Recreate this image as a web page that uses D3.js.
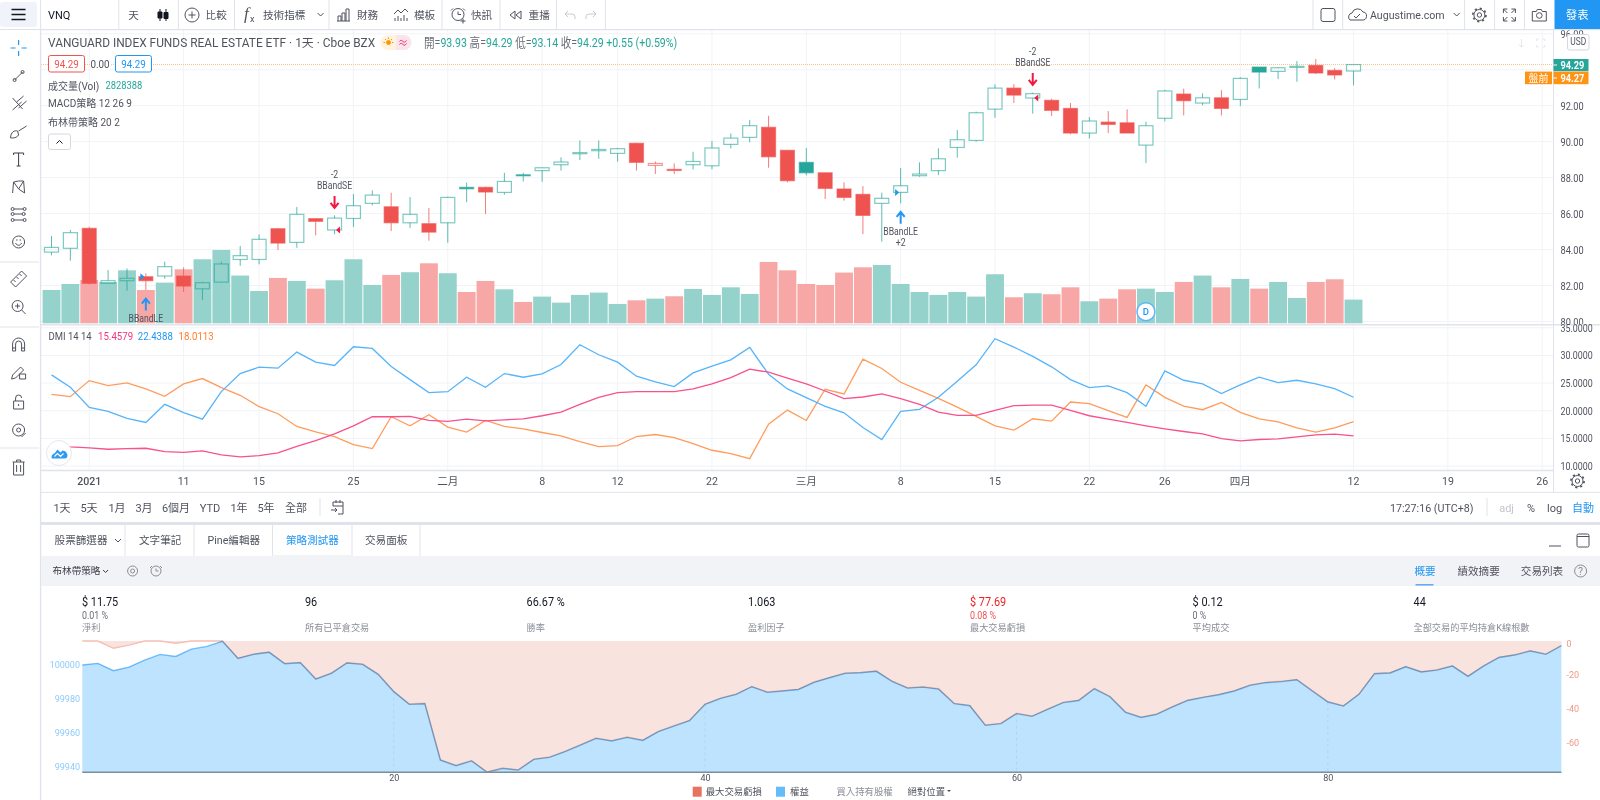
<!DOCTYPE html>
<html>
<head>
<meta charset="utf-8">
<title>VNQ</title>
<script src="https://d3js.org/d3.v7.min.js"></script>
<style>
  html, body { margin: 0; padding: 0; background: #fff; overflow: hidden; }
  svg { display: block; }
  text { font-family: Roboto, "Noto Sans CJK TC", sans-serif; font-size: 10.6px; fill: #50535e; }
  .axis path.domain, .axis line { display: none; }
  .icon { fill: none; stroke: #50535e; stroke-width: 1; }
</style>
</head>
<body>
<svg id="chart" width="1600" height="800"></svg>
<script>
"use strict"

// 日K資料 (VNQ)
var opens = [83.86,84.07,85.18,82.12,82.27,82.49,82.53,82.53,81.82,82.19,
  83.45,83.45,85.16,84.40,85.72,85.09,85.73,86.57,86.38,85.49,
  85.44,85.49,87.46,87.46,87.18,88.16,88.39,88.72,89.33,89.50,
  89.35,89.91,88.68,88.46,88.72,88.66,89.85,90.24,90.80,89.52,
  88.85,88.27,87.37,87.07,86.57,87.18,88.11,88.39,89.68,90.07,
  91.81,92.98,92.43,92.30,91.85,90.48,91.09,91.05,89.81,91.30,
  92.65,92.15,92.44,92.35,94.15,93.91,94.13,94.24,93.96,93.93];
var highs = [84.75,85.09,85.27,82.86,82.95,82.68,83.33,83.01,82.21,83.33,
  84.20,84.85,85.20,86.37,85.73,85.90,87.09,87.29,87.16,86.92,
  86.31,86.94,87.72,87.50,88.27,88.27,88.57,89.13,90.07,90.07,
  89.66,89.94,88.90,88.79,89.44,90.04,90.46,91.20,91.44,89.53,
  89.65,88.29,87.74,87.53,87.16,88.53,88.85,89.63,90.65,91.67,
  93.19,93.20,92.74,92.39,92.15,91.37,91.70,91.80,91.11,92.89,
  92.95,92.69,92.87,93.58,94.15,94.15,94.48,94.60,94.09,94.29];
var lows = [83.68,83.38,82.06,82.12,81.71,81.75,82.38,81.64,81.19,82.16,
  83.10,83.18,83.97,84.10,84.79,84.86,85.25,86.46,85.03,85.20,
  84.49,84.38,86.64,85.98,87.05,87.79,87.77,88.39,88.98,89.05,
  88.89,88.39,88.20,88.20,88.46,88.46,89.63,89.96,88.55,87.74,
  88.13,86.81,86.72,84.86,84.44,86.57,88.05,88.14,89.11,90.00,
  91.33,92.15,91.56,91.43,90.41,90.18,90.48,90.48,88.81,91.13,
  91.46,92.02,91.46,91.98,92.96,93.48,93.33,93.76,93.46,93.14];
var closes = [84.12,84.94,82.12,82.27,82.40,82.27,83.05,81.97,82.16,83.20,
  83.66,84.57,84.36,85.96,85.57,85.75,86.44,87.03,85.49,85.96,
  84.97,86.90,87.38,87.20,87.79,88.11,88.55,88.87,89.39,89.57,
  89.61,88.85,88.79,88.40,88.90,89.65,90.20,90.89,89.16,87.83,
  88.27,87.40,86.90,85.90,86.85,87.55,88.20,89.05,90.11,91.61,
  92.98,92.59,92.67,91.74,90.48,91.15,90.96,90.48,90.89,92.82,
  92.28,92.44,91.85,93.52,93.87,94.11,94.19,93.82,93.71,94.29];
// 成交量 (百萬)
var volumes = [3.98,4.70,5.18,4.94,6.33,3.98,4.86,6.45,7.65,8.76,
  5.70,3.86,5.42,5.06,4.14,5.14,7.65,4.58,5.78,6.10,
  7.17,5.98,3.74,5.06,4.06,2.55,3.19,2.47,3.39,3.67,
  2.31,2.75,2.95,3.23,4.10,3.39,4.30,3.51,7.33,6.33,
  4.70,4.58,6.06,6.69,6.97,4.70,3.74,3.39,3.74,3.19,
  5.86,3.11,3.59,3.47,4.30,2.63,2.95,4.06,4.14,3.74,
  4.94,5.70,4.30,5.30,4.14,4.94,3.03,4.94,5.26,2.83];
// DMI
var dmiBlue = [26.48,24.24,20.60,19.88,18.61,17.88,21.15,19.64,18.48,23.45,
  26.72,27.88,27.69,30.60,28.78,28.18,31.57,31.27,28.00,25.63,
  23.27,23.45,26.06,24.24,26.72,26.06,26.66,28.36,31.94,30.12,
  28.78,26.24,25.21,24.36,26.85,28.06,29.21,31.45,26.60,23.94,
  22.36,20.79,19.63,16.97,14.79,19.88,20.24,22.42,25.33,28.30,
  33.03,31.51,29.82,27.94,25.63,24.18,24.48,23.27,20.79,27.21,
  25.51,24.85,23.09,24.66,26.06,25.09,25.51,24.85,24.00,22.44];
var dmiOrange = [22.97,22.54,25.45,24.54,25.03,23.94,22.60,24.85,25.82,24.18,
  22.79,20.73,19.45,17.15,16.18,15.33,13.88,13.15,18.91,17.27,
  19.27,17.03,16.12,18.24,17.15,16.73,16.06,15.45,14.42,13.51,
  13.69,15.33,15.70,15.15,14.06,12.85,12.24,11.33,17.57,20.12,
  18.24,23.88,23.03,29.33,27.63,25.15,23.69,22.24,20.66,18.97,
  17.27,16.48,18.54,18.12,21.57,21.27,20.00,18.79,24.66,22.42,
  20.85,20.18,21.51,19.69,18.54,18.00,16.91,16.12,16.91,18.01];
var dmiPink = [13.76,13.45,13.27,13.03,13.15,13.21,12.60,12.48,12.73,12.00,
  11.64,11.88,12.36,13.57,14.60,15.82,17.27,18.91,18.91,18.97,
  18.24,18.06,18.48,18.18,18.36,18.54,19.09,19.76,21.15,22.42,
  23.27,23.45,23.45,23.45,23.94,24.85,26.00,27.51,26.97,25.88,
  24.85,23.57,22.18,22.48,23.03,22.18,21.15,19.76,19.15,19.15,
  20.06,20.91,21.03,21.03,20.06,19.09,18.48,17.88,17.27,16.73,
  16.24,15.82,14.97,14.54,14.79,14.91,15.27,15.63,15.76,15.46];
// 權益 / 最大交易虧損
var equity = [100000.0,100001.0,99996.7,99998.8,100002.9,100006.3,100005.1,100009.4,100011.0,100014.0,
  100003.9,100006.3,100007.5,100000.8,100001.4,99991.7,99995.1,100001.2,100000.4,99994.5,
  99984.3,99976.8,99977.2,99943.9,99940.6,99943.4,99936.7,99939.0,99938.0,99944.3,
  99945.5,99948.9,99952.8,99956.7,99955.2,99957.3,99955.5,99960.7,99964.0,99967.2,
  99976.8,99980.3,99982.7,99987.2,99983.9,99984.7,99985.6,99989.8,99992.5,99995.1,
  99995.5,99996.3,99990.4,99986.4,99987.0,99985.8,99977.2,99976.0,99964.4,99965.4,
  99971.3,99969.7,99973.8,99977.8,99979.1,99986.0,99981.3,99972.1,99969.1,99970.9,
  99975.2,99979.1,99980.9,99982.5,99984.7,99988.0,99989.6,99990.2,99991.3,99984.7,
  99978.2,99975.8,99982.7,99994.9,99995.3,99999.0,99995.9,99997.0,99999.4,99993.3,
  99999.4,100004.5,100005.9,100008.3,100006.3,100011.4];
var drawdown = [0,0,4.3,2.4,0,0,1.3,0,0,0,
  10.1,7.7,6.5,13.2,12.6,22.3,18.9,12.8,13.6,19.5,
  29.7,37.2,36.8,70.1,73.4,70.6,77.3,75.0,76.0,69.7,
  68.5,65.1,61.2,57.3,58.8,56.7,58.5,53.3,50.0,46.8,
  37.2,33.7,31.3,26.8,30.1,29.3,28.4,24.2,21.5,18.9,
  18.5,17.7,23.6,27.6,27.0,28.2,36.8,38.0,49.6,48.6,
  42.7,44.3,40.2,36.2,34.9,28.0,32.7,41.9,44.9,43.1,
  38.8,34.9,33.1,31.5,29.3,26.0,24.4,23.8,22.7,29.3,
  35.8,38.2,31.3,19.1,18.7,15.0,18.1,17.0,14.6,20.7,
  14.6,9.5,8.1,5.7,7.7,2.6];

var timeTickIndex = [2,7,11,16,21,26,30,35,40,45,50,55,59,63,69,74,79];
var timeTickLabels = ["2021","11","15","25","二月","8","12","22","三月","8","15","22","26","四月","12","19","26"];
var priceTicks = [80,82,84,86,88,90,92,94,96];
var priceLabelTicks = [80,82,84,86,88,90,92,96];  // 94.00 被標籤蓋住
var dmiTicks = [10,15,20,25,30,35];
var equityTicks = [99940,99960,99980,100000];
var drawdownTicks = [0,20,40,60];
var tradeTicks = [20,40,60,80];

var signalIndex = [5,15,45,52];
var signalName = ["BBandLE","BBandSE","BBandLE","BBandSE"];
var signalQty = ["+2","-2","+2","-2"];

var statValues = ["$ 11.75","96","66.67 %","1.063","$ 77.69","$ 0.12","44"];
var statSubs = ["0.01 %","","","","0.08 %","0 %",""];
var statLabels = ["淨利","所有已平倉交易","勝率","盈利因子","最大交易虧損","平均成交","全部交易的平均持倉K線根數"];
var statX = [82,305,526.6,748,970,1192.6,1413.5];

var teal = "#26a69a", red = "#ef5350", border = "#e0e3eb", gridColor = "#f2f3f7";
var pinkLine = "#f9508e", blueLine = "#56b4fb", orangeLine = "#ff9c5c";
var squeeze = 0.84; // 數字的字形比較窄

var svg = d3.select("#chart");
svg.append("rect").attr("width", 1600).attr("height", 800).attr("fill", "#fff");

// escalas
var x = d3.scaleBand().domain(d3.range(80)).range([42.07, 1551.67]);
var xc = function(i) { return x(i) + x.bandwidth() / 2; };
var yP = d3.scaleLinear().domain([80, 96]).range([321.5, 33.8]);
var yV = d3.scaleLinear().domain([0, 10]).range([323.3, 239.6]);
var yD = d3.scaleLinear().domain([10, 35]).range([466, 327.8]);
var xE = d3.scaleLinear().domain([0, 95]).range([82.3, 1561.4]);
var yE = d3.scaleLinear().domain([99936.7, 100014.2]).range([772.3, 641]);
var yDD = d3.scaleLinear().domain([0, 77.5]).range([641, 772.3]);

function label(px, py, str, opt) {
  opt = opt || {};
  return svg.append("text").attr("x", opt.narrow ? px / squeeze : px).attr("y", py).attr("dy", ".35em")
    .attr("transform", opt.narrow ? "scale(" + squeeze + ",1)" : null)
    .attr("text-anchor", opt.anchor || "start")
    .style("fill", opt.color || null)
    .style("font-size", opt.size ? opt.size + "px" : null)
    .style("font-weight", opt.weight || null)
    .text(str);
}
function narrowAxis(sel, padding, size) {
  sel.selectAll("text")
    .attr("x", padding / squeeze)
    .attr("transform", "scale(" + squeeze + ",1)")
    .style("fill", "#50535e").style("font-size", size + "px");
}
function icon(px, py, d, opt) {
  opt = opt || {};
  return svg.append("path").attr("class", "icon")
    .attr("transform", "translate(" + px + "," + py + ")" + (opt.scale ? " scale(" + opt.scale + ")" : ""))
    .attr("d", d)
    .style("stroke", opt.color || null)
    .style("stroke-width", opt.width || null)
    .style("fill", opt.fill || null);
}
function hline(x1, x2, y, color, w) {
  svg.append("line").attr("x1", x1).attr("x2", x2).attr("y1", y).attr("y2", y)
    .attr("stroke", color || border).attr("stroke-width", w || 1);
}
function vline(px, y1, y2, color, w) {
  svg.append("line").attr("x1", px).attr("x2", px).attr("y1", y1).attr("y2", y2)
    .attr("stroke", color || border).attr("stroke-width", w || 1);
}
var circlePath = function(r) { return "M" + r + " 0A" + r + " " + r + " 0 1 1 -" + r + " 0A" + r + " " + r + " 0 1 1 " + r + " 0"; };

// 主圖 grid
svg.append("g").selectAll("line").data(priceTicks).enter().append("line")
  .attr("x1", 41).attr("x2", 1553).attr("y1", function(d) { return yP(d); }).attr("y2", function(d) { return yP(d); })
  .attr("stroke", gridColor);
svg.append("g").selectAll("line").data(timeTickIndex).enter().append("line")
  .attr("x1", function(d) { return xc(d); }).attr("x2", function(d) { return xc(d); })
  .attr("y1", 30).attr("y2", 324).attr("stroke", gridColor);

// 成交量
svg.append("g").selectAll("rect").data(volumes).enter().append("rect")
  .attr("x", function(d, i) { return x(i) + 0.5; })
  .attr("width", x.bandwidth() - 1)
  .attr("y", function(d) { return yV(d); })
  .attr("height", function(d) { return yV(0) - yV(d); })
  .attr("fill", function(d, i) { return closes[i] >= opens[i] ? "#94d2cb" : "#f7a8a6"; });

// 最新價虛線
svg.append("line").attr("x1", 41).attr("x2", 1553).attr("y1", yP(closes[69])).attr("y2", yP(closes[69]))
  .attr("stroke", "#f9c48c").attr("stroke-dasharray", "1,1");

// K線: 顏色看前收, 實心看開收
function candleColor(i) { return (i > 0 && closes[i] < closes[i - 1]) ? red : teal; }
var candles = svg.append("g").selectAll("g").data(d3.range(70)).enter().append("g");
candles.append("path")
  .attr("d", function(i) {
    var top = yP(Math.max(opens[i], closes[i])), bot = yP(Math.min(opens[i], closes[i]));
    return "M" + xc(i) + " " + yP(highs[i]) + "V" + top + "M" + xc(i) + " " + bot + "V" + yP(lows[i]);
  })
  .attr("fill", "none").attr("stroke", candleColor).attr("stroke-opacity", 0.75);
candles.append("rect")
  .attr("x", function(i) { return xc(i) - 7; })
  .attr("width", 14)
  .attr("y", function(i) { return yP(Math.max(opens[i], closes[i])); })
  .attr("height", function(i) { return Math.max(1, Math.abs(yP(opens[i]) - yP(closes[i]))); })
  .attr("fill", function(i) { return closes[i] < opens[i] ? candleColor(i) : "none"; })
  .attr("stroke", candleColor).attr("stroke-opacity", 0.6).attr("stroke-width", 1.2);

// 訊號
signalIndex.forEach(function(idx, k) {
  var isLong = signalName[k] === "BBandLE";
  var c = isLong ? "#2196f3" : "#f0193f";
  var cx = xc(idx), oy = yP(opens[idx]);
  icon(cx + (isLong ? -4 : 4), oy, isLong ? "M-1.5 -3.5L2.5 0L-1.5 3.5Z" : "M1.5 -3.5L-2.5 0L1.5 3.5Z", { color: "none", fill: c });
  if (isLong) {
    var ay = yP(lows[idx]) + 8.5;
    icon(cx, ay + 6, "M0 6V-5 M-4 -1L0 -6L4 -1", { color: c, width: 2 });
    label(cx, ay + 20, signalName[k], { anchor: "middle", size: 10.3, narrow: true });
    if (ay + 31 < 320) label(cx, ay + 31, signalQty[k], { anchor: "middle", size: 10.3, narrow: true });
  } else {
    var by = yP(highs[idx]) - 7.5;
    icon(cx, by - 6, "M0 -6V5 M-4 1L0 6L4 1", { color: c, width: 2 });
    label(cx, by - 23, signalName[k], { anchor: "middle", size: 10.3, narrow: true });
    label(cx, by - 34, signalQty[k], { anchor: "middle", size: 10.3, narrow: true });
  }
});

// D 標記
svg.append("circle").attr("cx", xc(58)).attr("cy", 311.7).attr("r", 9).attr("fill", "#fff").attr("stroke", "#5fb4f8").attr("stroke-width", 1.5);
label(xc(58), 311.7, "D", { anchor: "middle", color: "#2196f3", size: 9.5, weight: 500 });

// 主圖價格軸
svg.append("g").attr("class", "axis").attr("transform", "translate(1553,0)")
  .call(d3.axisRight(yP).tickValues(priceLabelTicks).tickFormat(d3.format(".2f")).tickSize(0))
  .call(narrowAxis, 7.5, 11);

// DMI 區塊 (蓋住主圖下緣)
svg.append("rect").attr("x", 41).attr("y", 324).attr("width", 1559).attr("height", 170).attr("fill", "#fff");
hline(41, 1600, 324.8, border, 1.6);
svg.append("g").selectAll("line").data(dmiTicks).enter().append("line")
  .attr("x1", 41).attr("x2", 1553).attr("y1", function(d) { return yD(d); }).attr("y2", function(d) { return yD(d); })
  .attr("stroke", gridColor);
svg.append("g").selectAll("line").data(timeTickIndex).enter().append("line")
  .attr("x1", function(d) { return xc(d); }).attr("x2", function(d) { return xc(d); })
  .attr("y1", 326).attr("y2", 470).attr("stroke", gridColor);

var dmiLine = d3.line().x(function(d, i) { return xc(i); }).y(function(d) { return yD(d); });
[[dmiOrange, orangeLine], [dmiBlue, blueLine], [dmiPink, pinkLine]].forEach(function(s) {
  svg.append("path").attr("d", dmiLine(s[0])).attr("fill", "none").attr("stroke", s[1]).attr("stroke-width", 1.3);
});
label(48.5, 336, "DMI 14 14", { size: 11.3, narrow: true });
label(98, 336, d3.format(".4f")(15.4579), { color: "#f0367f", size: 11.5, narrow: true });
label(137.8, 336, d3.format(".4f")(22.4388), { color: "#2196f3", size: 11.5, narrow: true });
label(178.6, 336, d3.format(".4f")(18.0113), { color: "#ff7f2a", size: 11.5, narrow: true });

// logo
svg.append("circle").attr("cx", 59).attr("cy", 453).attr("r", 12.5).attr("fill", "#fff").attr("stroke", "#e6e8ee");
icon(59.5, 453.5, "M-8 4C-8 1 -6 0 -5 0L-2 -4L1 -1L3 -3C6 -3 8 0 8 2C8 4 7 5 5 5H-6C-7 5 -8 5 -8 4Z", { color: "none", fill: "#2e9bee" });
icon(59.5, 453.5, "M-5 3L-2 0L1 3L4 0", { color: "#fff", width: 1.2 });

hline(41, 1553, 470.5, border, 1.4);
vline(1553.5, 30, 492);

// 時間軸
var timeAxis = svg.append("g").attr("class", "axis").attr("transform", "translate(0,477.5)")
  .call(d3.axisBottom(x).tickValues(timeTickIndex).tickFormat(function(d) { return timeTickLabels[timeTickIndex.indexOf(d)]; }).tickSize(0).tickPadding(0));
timeAxis.selectAll("text").style("fill", "#50535e").style("font-size", "10.6px")
  .style("font-weight", function(d) { return d === 2 ? 500 : null; });
svg.append("g").attr("class", "axis").attr("transform", "translate(1553,0)")
  .call(d3.axisRight(yD).tickValues(dmiTicks).tickFormat(d3.format(".4f")).tickSize(0))
  .call(narrowAxis, 7.5, 10.6);

function gear(px, py) {
  icon(px, py, circlePath(2.2));
  icon(px, py, circlePath(5.5));
  svg.append("circle").attr("cx", px).attr("cy", py).attr("r", 6.6).attr("fill", "none").attr("stroke", "#50535e").attr("stroke-width", 1.6).attr("stroke-dasharray", "2.2,3");
}
gear(1577.5, 481);

// 圖表上方 legend
label(48, 43, "VANGUARD INDEX FUNDS REAL ESTATE ETF · 1天 · Cboe BZX", { size: 11.9 });
svg.append("rect").attr("x", 380.5).attr("y", 35).attr("width", 31).attr("height", 15).attr("rx", 7.5).attr("fill", "#fff3e0");
svg.append("path").attr("d", "M396 35H404A7.5 7.5 0 0 1 404 50H396Z").attr("fill", "#fce4ec");
icon(388.5, 42.5, circlePath(2), { color: "#ff9800", fill: "#ff9800" });
icon(388.5, 42.5, "M-5 0H-3.5 M5 0H3.5 M0 -5V-3.5 M-3.5 -3.5L-2.5 -2.5 M3.5 -3.5L2.5 -2.5", { color: "#ff9800" });
icon(403, 42.5, "M-3.5 -1C-2 -3 -1 -2 0 -1S2 0 3.5 -2 M-3.5 2C-2 0 -1 1 0 2S2 3 3.5 1", { color: "#e91e63" });

var ohlc = label(424, 43, "", { size: 12.6, narrow: true });
[["開=", 0], ["93.93 ", 1], ["高=", 0], ["94.29 ", 1], ["低=", 0], ["93.14 ", 1], ["收=", 0], ["94.29 ", 1], ["+0.55 (+0.59%)", 1]].forEach(function(p) {
  ohlc.append("tspan").style("fill", p[1] ? teal : "#6a6d78").text(p[0]);
});

svg.append("rect").attr("x", 48.5).attr("y", 55.5).attr("width", 36).attr("height", 16.5).attr("rx", 2).attr("fill", "#fff").attr("stroke", "#ef5350");
label(66.5, 64, "94.29", { anchor: "middle", color: red, size: 11.7, narrow: true });
svg.append("rect").attr("x", 90).attr("y", 58).attr("width", 20).attr("height", 12).attr("fill", "#fff");
label(100, 64, "0.00", { anchor: "middle", size: 11.7, narrow: true });
svg.append("rect").attr("x", 115.5).attr("y", 55.5).attr("width", 36).attr("height", 16.5).attr("rx", 2).attr("fill", "#fff").attr("stroke", "#2196f3");
label(133.5, 64, "94.29", { anchor: "middle", color: "#2196f3", size: 11.7, narrow: true });

label(48, 86, "成交量(Vol)", { size: 10 });
label(105.4, 85, "2828388", { color: teal, size: 11.2, narrow: true });
label(48, 103.7, "MACD策略 12 26 9", { size: 10 });
label(48, 122.3, "布林帶策略 20 2", { size: 10 });
svg.append("rect").attr("x", 48.5).attr("y", 134).attr("width", 22).attr("height", 15.5).attr("rx", 2).attr("fill", "#fff").attr("stroke", "#d6d8e0");
icon(59.5, 142, "M-3 1.5L0 -1.5L3 1.5", { color: "#131722" });

// 價格標籤
svg.append("rect").attr("x", 1553.5).attr("y", 59).attr("width", 35).attr("height", 12.2).attr("fill", teal);
label(1560.5, 65.2, "94.29", { color: "#fff", size: 11, weight: 700, narrow: true });
svg.append("rect").attr("x", 1553.5).attr("y", 71.6).attr("width", 35).attr("height", 12.6).attr("fill", "#ff9314");
label(1560.5, 78, "94.27", { color: "#fff", size: 11, weight: 700, narrow: true });
svg.append("rect").attr("x", 1525).attr("y", 71.6).attr("width", 27).attr("height", 12.6).attr("fill", "#ff9314");
label(1538.5, 78, "盤前", { anchor: "middle", color: "#fff", size: 10 });
hline(1553.5, 1557, 65, "#fff"); hline(1553.5, 1557, 78, "#fff");
svg.append("rect").attr("x", 1567.5).attr("y", 34.5).attr("width", 21.5).attr("height", 15.5).attr("rx", 2).attr("fill", "#fff").attr("stroke", "#d6d8e0");
label(1578.2, 42, "USD", { anchor: "middle", size: 10, narrow: true });
icon(1521.4, 43, "M0 -4V4 M-2.5 1.5L0 4L2.5 1.5", { color: "#e4e6ec" });
icon(1540.7, 43, "M-4 -2V-4H-2 M2 -4H4V-2 M4 2V4H2 M-2 4H-4V2", { color: "#e4e6ec" });

// 上方工具列
svg.append("rect").attr("width", 1600).attr("height", 29).attr("fill", "#fff");
hline(0, 1600, 29.6, border, 1.4);
svg.append("rect").attr("x", 0).attr("y", 2).attr("width", 37).attr("height", 25).attr("rx", 3).attr("fill", "#f0f3fa");
icon(18.5, 14.5, "M-7 -5H7 M-7 0H7 M-7 5H7", { color: "#131722", width: 1.6 });
[40.6,118.8,178.4,234.5,329,442,500,556.5,605.4,1313,1342.7,1464.6,1494.6,1524.5].forEach(function(v) { vline(v, 0, 29); });
label(48, 15, "VNQ", { color: "#131722", size: 11 });
label(133.6, 15, "天", { anchor: "middle", size: 10.6 });
icon(163, 15, "M-3 -6V6 M3 -6V6", { color: "#131722" });
icon(163, 15, "M-5 -3H-1V3H-5Z M1 -2.5H5V3.5H1Z", { color: "#131722", fill: "#131722" });
icon(192, 15, circlePath(7) + "M-3.5 0H3.5M0 -3.5V3.5");
label(205.6, 15, "比較");
svg.append("text").attr("x", 244).attr("y", 19).style("font-family", "'Liberation Serif',serif").style("font-style", "italic").style("font-size", "17px").text("f");
svg.append("text").attr("x", 250).attr("y", 22).style("font-size", "9px").text("x");
label(263, 15, "技術指標");
icon(320.6, 14.5, "M-3 -1.5L0 1.5L3 -1.5");
icon(343, 15, "M-6 6H7 M-5 6V1H-2V6 M-1 6V-2H2V6 M3 6V-6H6V6");
label(357, 15, "財務");
icon(401, 15, "M-7 -1L-3 -5L0 -2L4 -6L7 -3 M-6 6V3 M-3 6V1 M0 6V3 M3 6V0 M6 6V3");
label(414, 15, "模板");
icon(458, 14.5, circlePath(6) + "M0 -3V0H3 M-7 -4L-5 -6 M7 -4L5 -6 M5 4V9 M2.5 6.5H7.5");
label(471, 15, "快訊");
icon(515, 15, "M0 -4L-5 0L0 4Z M6 -4L1 0L6 4Z");
label(528.6, 15, "重播");
icon(570, 15, "M-5 -1L-2 -4 M-5 -1L-2 2 M-5 -1H2A3 3 0 0 1 5 2V4", { color: "#c8cbd2" });
icon(591, 15, "M5 -1L2 -4 M5 -1L2 2 M5 -1H-2A3 3 0 0 0 -5 2V4", { color: "#c8cbd2" });
svg.append("rect").attr("x", 1321).attr("y", 8.5).attr("width", 14).attr("height", 13).attr("rx", 2).attr("fill", "none").attr("stroke", "#50535e");
icon(1357, 15, "M-7 5H5A4 4 0 0 0 6 -3A6 6 0 0 0 -5 -2A4 4 0 0 0 -7 5Z M-3 1L-1 3L3 -1");
label(1370, 15, "Augustime.com", { size: 10.6 });
icon(1456.7, 14.5, "M-3 -1.5L0 1.5L3 -1.5");
gear(1479.4, 15);
icon(1509.4, 15, "M-6 -2V-6H-2 M6 -2V-6H2 M-6 2V6H-2 M6 2V6H2 M-6 -6L-2 -2 M6 -6L2 -2 M-6 6L-2 2 M6 6L2 2");
icon(1539.3, 15, "M-7 -3.5H-3L-2 -5.5H2L3 -3.5H7V6H-7Z" );
icon(1539.3, 15.5, circlePath(2.8));
svg.append("rect").attr("x", 1554.5).attr("y", 0).attr("width", 45.5).attr("height", 29).attr("fill", "#2196f3");
label(1577.2, 15, "發表", { anchor: "middle", color: "#fff", size: 11.4 });

// 左側工具列
svg.append("rect").attr("x", 0).attr("y", 30).attr("width", 40).attr("height", 770).attr("fill", "#fff");
vline(40.6, 29, 800, border, 1.4);
var lx = 18.6;
icon(lx, 48, "M0 -8V-3 M0 3V8 M-8 0H-3 M3 0H8", { color: "#2196f3", width: 1.2 });
icon(lx, 76, "M-4 4L4 -4 M-4 4m-1.5 0a1.5 1.5 0 1 0 3 0a1.5 1.5 0 1 0 -3 0 M4 -4m-1.5 0a1.5 1.5 0 1 0 3 0a1.5 1.5 0 1 0 -3 0");
icon(lx, 104, "M-6 -6L4 5 M-6 6L3 -2 M0 4L8 -3 M-2 -2L5 -8");
icon(lx, 132, "M-8 6C-8 0 -4 -2 -1 -1L0 3C-2 6 -5 6 -8 6Z M0 -1L8 -6");
icon(lx, 159, "M-5 -4V-6H5V-4 M0 -6V7 M-2 7H2", { color: "#3a3d48" });
icon(lx, 187, "M-6 6L-5 -5L0 2L5 -6L6 6L0 2 M-5 -5L0 -6 M0 -6L5 -6");
icon(lx, 215, "M-7 -6H7 M-7 -1H7 M-7 5H7", {});
[[-6,-6],[6,-6],[-6,-1],[5,-1],[-6,5],[6,5]].forEach(function(p) { icon(lx + p[0], 215 + p[1], circlePath(1.5), { fill: "#fff" }); });
icon(lx, 242, circlePath(6) + "M-3 1C-2 4 2 4 3 1 M-2.5 -2H-1 M1 -2H2.5");
hline(0, 39, 262, border);
icon(lx, 279, "M-8 3L3 -8L8 -3L-3 8Z M-5 1L-3 3 M-2 -2L0 0 M1 -5L3 -3");
icon(lx - 1, 306, circlePath(5.5) + "M-2.5 0H2.5M0 -2.5V2.5M4 4L8 8");
hline(0, 39, 327, border);
icon(lx, 345, "M-6 6V-1A6 6 0 0 1 6 -1V6H3V-1A3 3 0 0 0 -3 -1V6Z M-6 3H-3 M3 3H6");
icon(lx, 373, "M-6 2L2 -6L5 -3L-3 5L-7 6Z M1 1H7V6H1Z");
icon(lx, 402, "M-5 -1H5V7H-5Z M-3 -1V-4A3 3 0 0 1 3 -4 M0 2V4");
icon(lx, 430, circlePath(6) + "M2 0A2 2 0 1 1 -2 0A2 2 0 1 1 2 0 M3 7L7 3");
hline(0, 39, 448, border);
icon(lx, 468, "M-6 -6H6 M-2 -6V-8H2V-6 M-5 -6V7H5V-6 M-2 -3V4 M2 -3V4");

// 時間範圍列
hline(41, 1600, 492.4, border);
[["1天",62],["5天",89],["1月",117],["3月",144],["6個月",176],["YTD",210],["1年",239],["5年",266],["全部",296]].forEach(function(r) {
  label(r[1], 508, r[0], { anchor: "middle", size: 11 });
});
vline(320, 498, 516);
icon(338, 508, "M-5 -2H5 M-5 -2V-6H5V6H0 M-2 -8V-5 M2 -8V-5 M-7 2H-1 M-3 0L-1 2L-3 4");
label(1390, 508, "17:27:16 (UTC+8)", { size: 10.7 });
vline(1487, 498, 516);
label(1506.6, 508, "adj", { anchor: "middle", color: "#c4c6cd", size: 11 });
label(1531, 508, "%", { anchor: "middle", size: 11 });
label(1554.6, 508, "log", { anchor: "middle", size: 11 });
label(1583, 508, "自動", { anchor: "middle", color: "#2196f3", size: 11 });

// 分隔帶與頁籤
svg.append("rect").attr("x", 41).attr("y", 522).attr("width", 1559).attr("height", 3).attr("fill", border);
[125,194,272.5,352,420].forEach(function(v) { vline(v, 525, 556); });
label(54.6, 540.7, "股票篩選器");
icon(118, 540.5, "M-3 -1.5L0 1.5L3 -1.5");
label(139, 540.7, "文字筆記");
label(207.6, 540.7, "Pine編輯器");
label(286, 540.7, "策略測試器", { color: "#2196f3" });
label(365, 540.7, "交易面板");
hline(1549, 1561, 546, "#50535e");
svg.append("rect").attr("x", 1577).attr("y", 534).attr("width", 12).attr("height", 13).attr("rx", 1.5).attr("fill", "none").attr("stroke", "#50535e");
hline(1577, 1589, 536.5, "#50535e");

// 策略列
svg.append("rect").attr("x", 41).attr("y", 556).attr("width", 1559).attr("height", 30).attr("fill", "#f1f3f6");
svg.append("rect").attr("x", 272.5).attr("y", 555).attr("width", 79).attr("height", 2).attr("fill", "#f1f3f6");
label(52.5, 571, "布林帶策略", { size: 9.6, color: "#3a3d48" });
icon(105.6, 571, "M-2.5 -1L0 1.5L2.5 -1", { color: "#3a3d48" });
icon(132.6, 571, circlePath(2) + circlePath(5), { color: "#8b8e98" });
icon(156, 571, circlePath(5) + "M0 -2.5V0H2.5 M-6 -3L-4 -5 M6 -3L4 -5", { color: "#8b8e98" });
label(1425, 571, "概要", { anchor: "middle", color: "#2196f3" });
label(1478.6, 571, "績效摘要", { anchor: "middle" });
label(1542, 571, "交易列表", { anchor: "middle" });
icon(1580.6, 571, circlePath(6), { color: "#8b8e98" });
label(1580.6, 571, "?", { anchor: "middle", color: "#8b8e98" });
svg.append("rect").attr("x", 1415.5).attr("y", 584).attr("width", 18).attr("height", 1.6).attr("fill", "#6ba9ef");

// 統計欄
statValues.forEach(function(v, i) {
  var isLoss = i === 4;
  label(statX[i], 601.7, v, { size: 13, color: isLoss ? "#f01f1f" : "#131722", narrow: true });
  if (statSubs[i]) label(statX[i], 615, statSubs[i], { size: 10.6, color: isLoss ? "#ef5350" : "#6a6d78", narrow: true });
  label(statX[i], 628, statLabels[i], { size: 9.2, color: "#8b8e98" });
});

// 權益曲線
var ddArea = d3.area().x(function(d, i) { return xE(i); }).y0(yDD(0)).y1(function(d) { return yDD(d); });
var eqArea = d3.area().x(function(d, i) { return xE(i); }).y0(yE.range()[0]).y1(function(d) { return yE(d); });
svg.append("path").attr("d", ddArea(drawdown)).attr("fill", "#f9e3df");
svg.append("path").attr("d", eqArea(equity)).attr("fill", "#bde3fe");
svg.append("g").selectAll("line").data(tradeTicks).enter().append("line")
  .attr("x1", function(d) { return xE(d); }).attr("x2", function(d) { return xE(d); })
  .attr("y1", function(d) { return yE(equity[d]); }).attr("y2", yE.range()[0])
  .attr("stroke", "#aed6f3").attr("stroke-dasharray", "3,3");
svg.append("path").attr("d", d3.line().x(function(d, i) { return xE(i); }).y(function(d) { return yDD(d); })(drawdown))
  .attr("fill", "none").attr("stroke", "#f5bfb3").attr("stroke-width", 1.4);
svg.append("path").attr("d", d3.line().x(function(d, i) { return xE(i); }).y(function(d) { return yE(d); })(equity))
  .attr("fill", "none").attr("stroke", "#7cc4fb").attr("stroke-width", 1.4).style("mix-blend-mode", "multiply");
hline(xE(0), xE(95), yE.range()[0], "#78909c", 1.5);

svg.append("g").attr("class", "axis").attr("transform", "translate(82,0)")
  .call(d3.axisLeft(yE).tickValues(equityTicks).tickFormat(d3.format("d")).tickSize(0).tickPadding(2))
  .selectAll("text").style("fill", "#8fcbfa").style("font-size", "9px");
svg.append("g").attr("class", "axis").attr("transform", "translate(1561.5,0)")
  .call(d3.axisRight(yDD).tickValues(drawdownTicks).tickFormat(function(d) { return d === 0 ? "0" : "-" + d; }).tickSize(0).tickPadding(5))
  .selectAll("text").style("fill", "#ec9a85").style("font-size", "9px")
  .attr("transform", function(d) { return d === 0 ? "translate(0,3)" : null; });
svg.append("g").attr("class", "axis").attr("transform", "translate(0,774.5)")
  .call(d3.axisBottom(xE).tickValues(tradeTicks).tickFormat(d3.format("d")).tickSize(0).tickPadding(0))
  .selectAll("text").style("fill", "#50535e").style("font-size", "9px");

// 權益圖例
svg.append("rect").attr("x", 692.7).attr("y", 786.7).attr("width", 9).attr("height", 10).attr("fill", "#e5735f");
label(705.7, 791.7, "最大交易虧損", { size: 9.4 });
svg.append("rect").attr("x", 776).attr("y", 786.7).attr("width", 9).attr("height", 10).attr("fill", "#64bcfb");
label(790, 791.7, "權益", { size: 9.4 });
label(836.4, 791.7, "買入持有股權", { size: 9.4, color: "#8b8e98" });
label(907.6, 791.7, "絕對位置", { size: 9.4 });
icon(949, 791, "M-2 -1H2L0 1Z", { color: "none", fill: "#50535e" });
</script>
</body>
</html>
